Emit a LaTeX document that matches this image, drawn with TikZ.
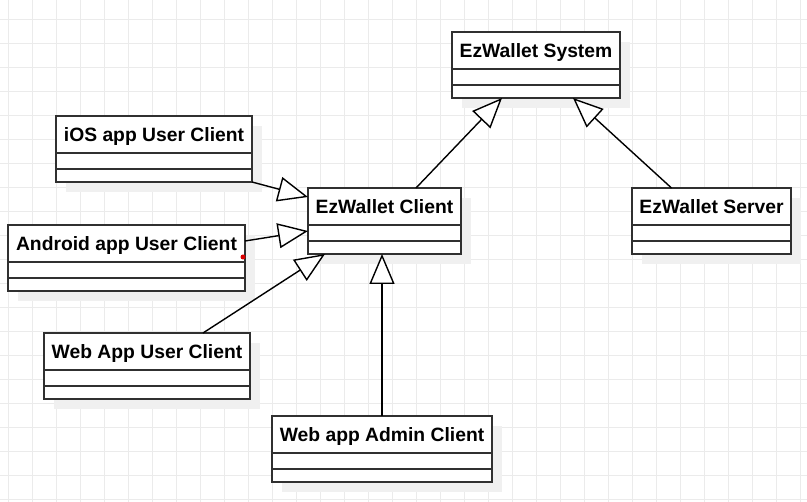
\documentclass[tikz,border=0pt]{standalone}
\usepackage{fontspec}
\setmainfont{Liberation Sans}
\usetikzlibrary{arrows.meta,positioning,shadows}
\definecolor{gridgray}{HTML}{EBEBEB}
\definecolor{boxline}{HTML}{303030}
% class box: name compartment plus two empty compartments
\newcommand{\classbox}[5]{%
  \node[classhead,minimum width=#4] (#1) at (#2,#3) {#5};
  \node[classbody,minimum width=#4,below=0pt of #1] (#1-body) {};
}
\begin{document}
\begin{tikzpicture}[x=1pt,y=-1pt,
  boxshadow/.style={drop shadow={shadow xshift=10pt,shadow yshift=-10pt,fill=black!6,opacity=1}},
  classhead/.style={draw=boxline,line width=2pt,fill=white,anchor=north west,
    inner sep=0pt,outer sep=0pt,minimum height=37pt,text height=18.6pt,text depth=5.4pt,
    font=\fontsize{19.3}{22}\selectfont\bfseries,boxshadow},
  classbody/.style={draw=boxline,line width=2pt,fill=white,inner sep=0pt,outer sep=0pt,
    minimum height=29pt,boxshadow,
    path picture={\draw[boxline,line width=2pt]
      ([yshift=-16pt]path picture bounding box.north west) --
      ([yshift=-16pt]path picture bounding box.north east);}},
  inherit/.style={line width=1.4pt,-{Triangle[length=30pt,width=25pt,fill=white]}}]
\useasboundingbox (0,0) rectangle (807,502);
\fill[white] (0,0) rectangle (807,502);
% background grid
\foreach \gx in {8,32,...,800}
  \draw[gridgray,line width=1pt] (\gx,0) -- (\gx,502);
\foreach \gy in {20,44,...,500}
  \draw[gridgray,line width=1pt] (0,\gy) -- (807,\gy);
% classes
\classbox{sys}{452}{32}{168pt}{EzWallet System}
\classbox{ios}{56}{116}{196pt}{iOS app User Client}
\classbox{android}{8}{225}{237pt}{Android app User Client}
\classbox{webuser}{44}{333}{206pt}{Web App User Client}
\classbox{admin}{272}{416}{220pt}{Web app Admin Client}
\classbox{client}{308}{188}{153pt}{EzWallet Client}
\classbox{server}{632}{188}{159pt}{EzWallet Server}
% generalisations
\draw[inherit] ([xshift=31.5pt]client.north) -- ([xshift=-34pt]sys-body.south);
\draw[inherit] ([xshift=-40pt]server.north) -- ([xshift=37pt]sys-body.south);
\draw[inherit] (ios-body.south east) -- ([yshift=-9pt]client.north west);
\draw[inherit] ([yshift=-16pt]android.north east) -- ([yshift=-6pt]client-body.north west);
\draw[inherit] ([xshift=56pt]webuser.north) -- ([xshift=17pt]client-body.south west);
\draw[inherit] (admin.north) -- (admin.north |- client-body.south);
\fill[red!85!black] (243,257) circle[radius=2.5];
\end{tikzpicture}
\end{document}
